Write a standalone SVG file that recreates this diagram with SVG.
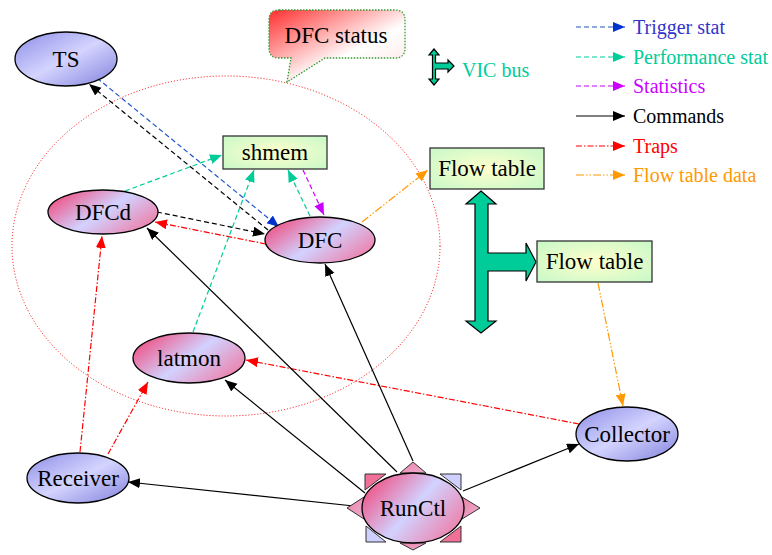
<svg xmlns="http://www.w3.org/2000/svg" width="772" height="555" viewBox="0 0 772 555">
  <defs>
    <linearGradient id="gBlue" x1="0" y1="0" x2="1" y2="1">
      <stop offset="0" stop-color="#8c8ce6"/>
      <stop offset="0.5" stop-color="#d4d4ff"/>
      <stop offset="1" stop-color="#8080dc"/>
    </linearGradient>
    <linearGradient id="gPink" x1="0" y1="0.2" x2="1" y2="0.8">
      <stop offset="0" stop-color="#f04c80"/>
      <stop offset="0.5" stop-color="#d2d2ff"/>
      <stop offset="1" stop-color="#ee7aa4"/>
    </linearGradient>
    <radialGradient id="gGreen" cx="0.5" cy="0.5" r="0.7">
      <stop offset="0" stop-color="#ffffcc"/>
      <stop offset="1" stop-color="#c8f8c8"/>
    </radialGradient>
    <linearGradient id="gCallout" x1="0" y1="0" x2="1" y2="1">
      <stop offset="0" stop-color="#ff2e2e"/>
      <stop offset="0.6" stop-color="#ffffff"/>
      <stop offset="1" stop-color="#ffe0e0"/>
    </linearGradient>
    <linearGradient id="gTri" x1="0" y1="0" x2="1" y2="1">
      <stop offset="0" stop-color="#f080a8"/>
      <stop offset="1" stop-color="#e8b0d0"/>
    </linearGradient>
    <marker id="aBlack" markerUnits="userSpaceOnUse" markerWidth="13" markerHeight="11" refX="12" refY="5" orient="auto"><path d="M0,0 L12,5 L0,10 Z" fill="#000"/></marker>
    <marker id="aBlue" markerUnits="userSpaceOnUse" markerWidth="13" markerHeight="11" refX="12" refY="5" orient="auto"><path d="M0,0 L12,5 L0,10 Z" fill="#0033cc"/></marker>
    <marker id="aTeal" markerUnits="userSpaceOnUse" markerWidth="13" markerHeight="11" refX="12" refY="5" orient="auto"><path d="M0,0 L12,5 L0,10 Z" fill="#00cc99"/></marker>
    <marker id="aMag" markerUnits="userSpaceOnUse" markerWidth="13" markerHeight="11" refX="12" refY="5" orient="auto"><path d="M0,0 L12,5 L0,10 Z" fill="#cc00ff"/></marker>
    <marker id="aRed" markerUnits="userSpaceOnUse" markerWidth="13" markerHeight="11" refX="12" refY="5" orient="auto"><path d="M0,0 L12,5 L0,10 Z" fill="#ff0000"/></marker>
    <marker id="aOrange" markerUnits="userSpaceOnUse" markerWidth="13" markerHeight="11" refX="12" refY="5" orient="auto"><path d="M0,0 L12,5 L0,10 Z" fill="#ff9900"/></marker>
  </defs>
  <style>
    text { font-family: "Liberation Serif", "Times New Roman", serif; }
    .lbl { font-size: 23px; fill: #000; text-anchor: middle; }
    .leg { font-size: 20px; }
    .node { stroke: #000; stroke-width: 1.3; }
    .box { stroke: #333; stroke-width: 1.3; fill: url(#gGreen); }
    .c { fill: none; stroke-width: 1.2; }
    .cmd { stroke: #000; marker-end: url(#aBlack); }
    .cmdd { stroke: #000; stroke-dasharray: 5,3; marker-end: url(#aBlack); }
    .trig { stroke: #2255cc; stroke-dasharray: 5,3; marker-end: url(#aBlue); }
    .perf { stroke: #00cc99; stroke-dasharray: 5,3; marker-end: url(#aTeal); }
    .stat { stroke: #cc00ff; stroke-dasharray: 5,3; marker-end: url(#aMag); }
    .trap { stroke: #ff0000; stroke-dasharray: 6,2,1.5,2; marker-end: url(#aRed); }
    .ftd { stroke: #ff9900; stroke-dasharray: 8,2,1.5,2,1.5,2; marker-end: url(#aOrange); }
    .bus { fill: #00cc99; stroke: #000; stroke-width: 1.2; }
  </style>

  <!-- DFC status area -->
  <ellipse cx="226" cy="246" rx="214" ry="170" fill="none" stroke="#ff0000" stroke-width="1" stroke-dasharray="1,2"/>
  <g id="dfc-status">
    <path d="M279,10 H395 Q405,10 405,20 V48 Q405,58 395,58 H325 L287,82 L291,58 H279 Q269,58 269,48 V20 Q269,10 279,10 Z" fill="url(#gCallout)" stroke="#339933" stroke-width="1.3" stroke-dasharray="1.5,1.5"/>
    <text class="lbl" x="336" y="43">DFC status</text>
  </g>

  <!-- VIC bus -->
  <g id="vic-bus">
    <path class="bus" d="M481,191 L496,204 L488,204 L488,253 L526,253 L526,243 L536,262 L526,281 L526,271 L488,271 L488,321 L496,321 L481,333 L466,321 L475,321 L475,204 L466,204 Z"/>
  </g>

  <!-- connectors -->
  <g id="connectors">
    <line class="c trig" x1="97" y1="78" x2="279" y2="227"/>
    <line class="c cmdd" x1="268" y1="230" x2="89" y2="84"/>
    <line class="c cmdd" x1="157" y1="212" x2="265" y2="234"/>
    <line class="c trap" x1="266" y1="244" x2="155" y2="222"/>
    <line class="c perf" x1="125" y1="191" x2="222" y2="155"/>
    <line class="c perf" x1="193" y1="332" x2="254" y2="170"/>
    <line class="c perf" x1="310" y1="216" x2="288" y2="170"/>
    <line class="c stat" x1="303" y1="170" x2="324" y2="215"/>
    <line class="c ftd" x1="362" y1="222" x2="428" y2="170"/>
    <line class="c ftd" x1="598" y1="283" x2="623" y2="406"/>
    <line class="c trap" x1="579" y1="424" x2="246" y2="360"/>
    <line class="c trap" x1="80" y1="452" x2="102" y2="236"/>
    <line class="c trap" x1="108" y1="454" x2="148" y2="382"/>
    <line class="c cmd" x1="397" y1="472" x2="147" y2="228"/>
    <line class="c cmd" x1="413" y1="461" x2="325" y2="264"/>
    <line class="c cmd" x1="365" y1="493" x2="225" y2="380"/>
    <line class="c cmd" x1="363" y1="507" x2="128" y2="482"/>
    <line class="c cmd" x1="463" y1="491" x2="579" y2="444"/>
  </g>

  <!-- nodes -->
  <g id="ts">
    <ellipse class="node" cx="66" cy="59" rx="51" ry="27" fill="url(#gBlue)"/>
    <text class="lbl" x="66" y="67">TS</text>
  </g>
  <g id="shmem">
    <rect class="box" x="223" y="136" width="104" height="33"/>
    <text class="lbl" x="275" y="160">shmem</text>
  </g>
  <g id="dfcd">
    <ellipse class="node" cx="103" cy="212" rx="55" ry="22" fill="url(#gPink)"/>
    <text class="lbl" x="103" y="220">DFCd</text>
  </g>
  <g id="dfc">
    <ellipse class="node" cx="320" cy="240" rx="55" ry="23" fill="url(#gPink)"/>
    <text class="lbl" x="320" y="248">DFC</text>
  </g>
  <g id="latmon">
    <ellipse class="node" cx="189" cy="358" rx="56" ry="25" fill="url(#gPink)"/>
    <text class="lbl" x="189" y="366">latmon</text>
  </g>
  <g id="flow-table-1">
    <rect class="box" x="430" y="148" width="114" height="41"/>
    <text class="lbl" x="487" y="176">Flow table</text>
  </g>
  <g id="flow-table-2">
    <rect class="box" x="537" y="241" width="115" height="41"/>
    <text class="lbl" x="594.5" y="269">Flow table</text>
  </g>
  <g id="receiver">
    <ellipse class="node" cx="78" cy="478" rx="51" ry="25" fill="url(#gBlue)"/>
    <text class="lbl" x="78" y="486">Receiver</text>
  </g>
  <g id="collector">
    <ellipse class="node" cx="627" cy="434" rx="51" ry="27" fill="url(#gBlue)"/>
    <text class="lbl" x="627" y="442">Collector</text>
  </g>
  <g id="runctl">
    <g stroke="#333" stroke-width="1">
      <path d="M365,474 H386 L365,490 Z" fill="#f07098"/>
      <path d="M461,474 H440 L461,490 Z" fill="#d0d0ff"/>
      <path d="M366,542 H386 L366,526 Z" fill="#d0d0ff"/>
      <path d="M461,542 H440 L461,526 Z" fill="#f07098"/>
      <path d="M413,462 L426,473 L400,473 Z" fill="url(#gTri)"/>
      <path d="M413,550 L426,543 L400,543 Z" fill="url(#gTri)"/>
      <path d="M347,508 L364,497 L364,519 Z" fill="url(#gTri)"/>
      <path d="M480,508 L462,497 L462,519 Z" fill="url(#gTri)"/>
    </g>
    <ellipse class="node" cx="413" cy="508" rx="51" ry="35" fill="url(#gPink)"/>
    <text class="lbl" x="413" y="516">RunCtl</text>
  </g>

  <!-- legend -->
  <g id="legend">
    <path class="bus" stroke-width="0.9" d="M434,49 L439,55 L435.5,55 L435.5,63 L448,63 L448,60 L454,66 L448,72 L448,69 L435.5,69 L435.5,79 L439,79 L434,85 L429,79 L432.5,79 L432.5,55 L429,55 Z"/>
    <text class="leg" x="462" y="77" fill="#00cc99">VIC bus</text>

    <line class="c trig" x1="576" y1="27" x2="625" y2="27"/>
    <text class="leg" x="633" y="34" fill="#3333cc">Trigger stat</text>
    <line class="c perf" x1="576" y1="57" x2="625" y2="57"/>
    <text class="leg" x="633" y="64" fill="#00cc99">Performance stat</text>
    <line class="c stat" x1="576" y1="86" x2="625" y2="86"/>
    <text class="leg" x="633" y="93" fill="#cc00ff">Statistics</text>
    <line class="c cmd" x1="576" y1="116" x2="625" y2="116"/>
    <text class="leg" x="633" y="123" fill="#000">Commands</text>
    <line class="c trap" x1="576" y1="146" x2="625" y2="146"/>
    <text class="leg" x="633" y="153" fill="#ff0000">Traps</text>
    <line class="c ftd" x1="576" y1="175" x2="625" y2="175"/>
    <text class="leg" x="633" y="182" fill="#ff9900">Flow table data</text>
  </g>
</svg>
